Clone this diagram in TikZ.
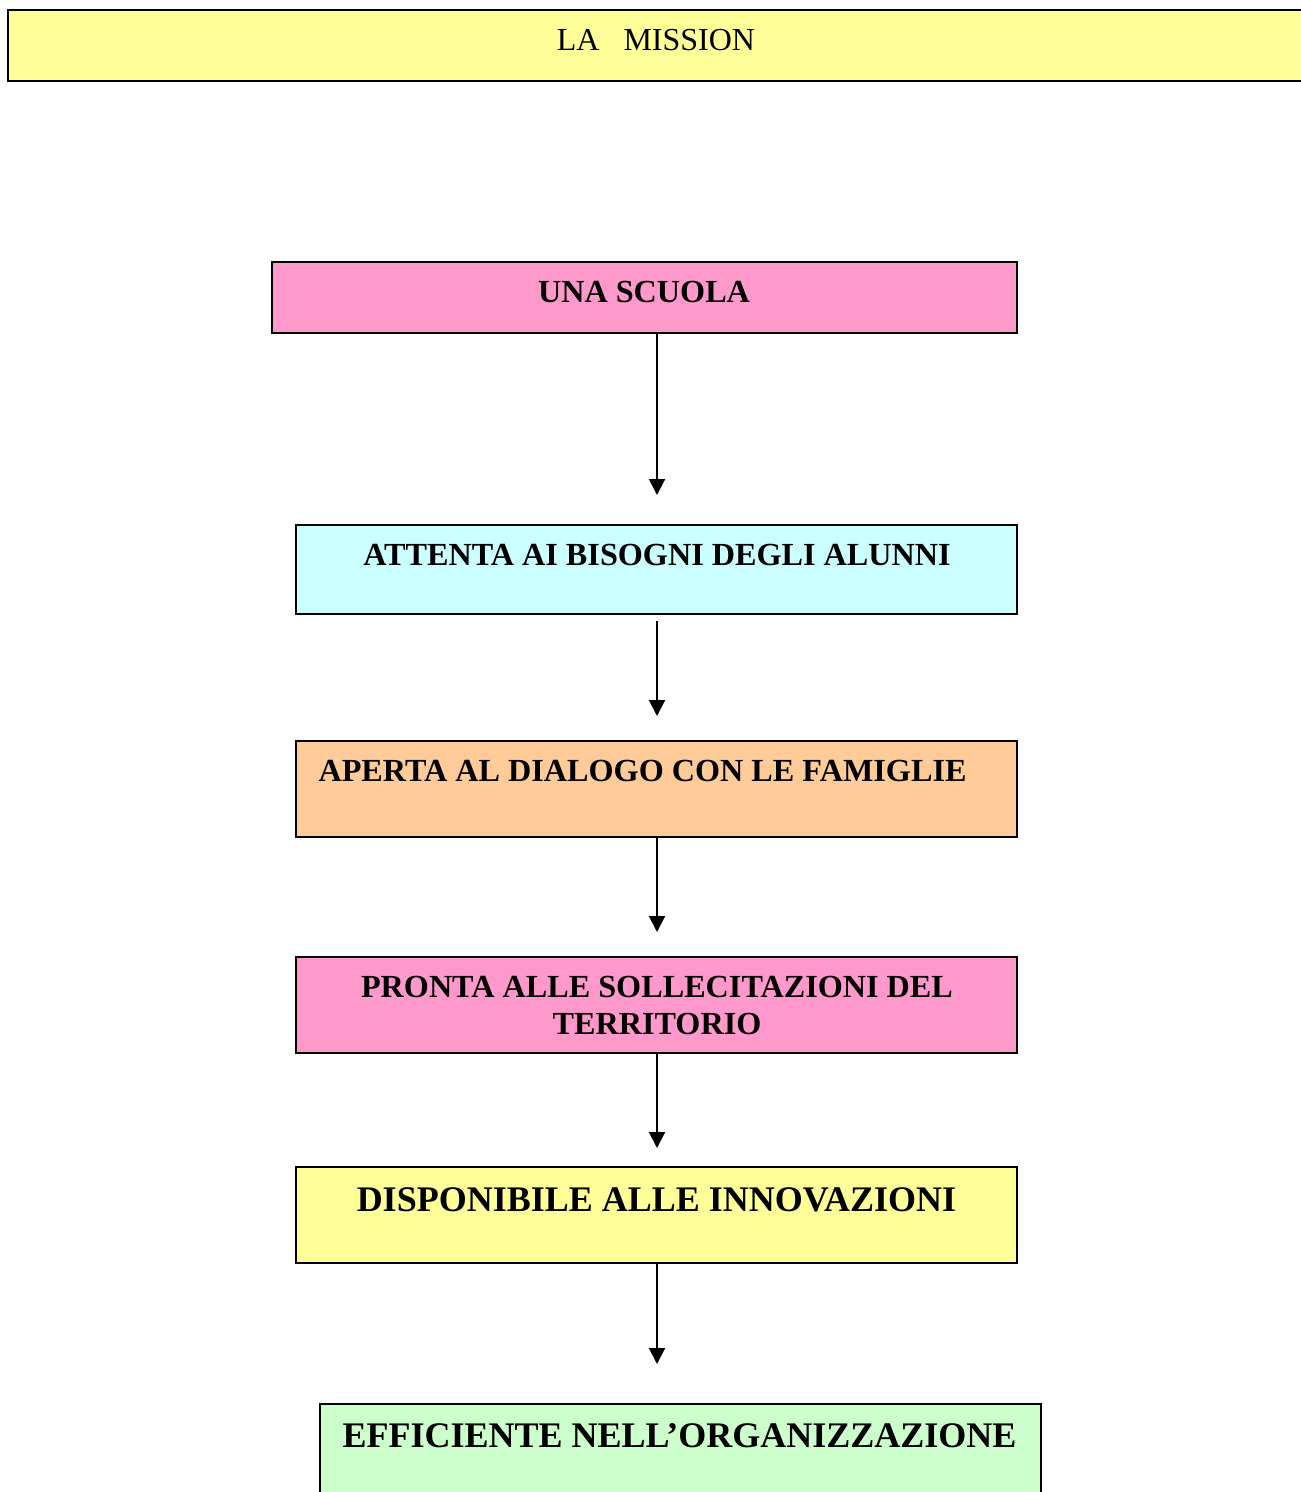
\documentclass[tikz,border=0pt]{standalone}
\usepackage{fontspec}
\setmainfont{Liberation Serif}
\usetikzlibrary{arrows.meta}
\definecolor{cpink}{HTML}{FF99CC}
\definecolor{ccyan}{HTML}{CCFFFF}
\definecolor{cpeach}{HTML}{FFCC99}
\definecolor{cyell}{HTML}{FFFF99}
\definecolor{cgreen}{HTML}{CCFFCC}
\begin{document}
\begin{tikzpicture}[x=0.5pt,y=-0.5pt,
  box/.style={draw=black,line width=1pt,rectangle,inner sep=0pt,minimum width=360.5pt,minimum height=48pt},
  txt/.style={inner sep=0pt,font=\fontsize{16.1}{18.5}\selectfont\bfseries,align=center},
  bigtxt/.style={inner sep=0pt,font=\fontsize{18}{21}\selectfont\bfseries,align=center},
  arr/.style={line width=1pt,-{Triangle[length=8pt,width=8pt]}}]
\useasboundingbox (0,0) rectangle (1300,1492);
\fill[white] (0,0) rectangle (1300,1492);
% title
\node[box,fill=cyell,line width=1.3pt,minimum width=651pt,minimum height=35.5pt] (title) at (659,45.5) {};
\node[inner sep=0pt,font=\fontsize{16}{18}\selectfont] (tt) at (656,40) {LA\ \ \ MISSION};
% boxes
\node[box,fill=cpink,minimum width=372.5pt,minimum height=35.5pt] (b1) at (644.5,297.5) {};
\node[txt] (t1) at (644,292) {UNA SCUOLA};
\node[box,fill=ccyan,minimum height=44.5pt] (b2) at (656.5,569.5) {};
\node[txt] (t2) at (657,555) {ATTENTA AI BISOGNI DEGLI ALUNNI};
\node[box,fill=cpeach] (b3) at (656.5,789) {};
\node[txt] (t3) at (642.5,771) {APERTA AL DIALOGO CON LE FAMIGLIE};
\node[box,fill=cpink] (b4) at (656.5,1005) {};
\node[txt] (t4) at (657,1005) {PRONTA ALLE SOLLECITAZIONI DEL\\TERRITORIO};
\node[box,fill=cyell] (b5) at (656.5,1215) {};
\node[bigtxt] (t5) at (656.5,1200) {DISPONIBILE ALLE INNOVAZIONI};
\node[box,fill=cgreen,minimum height=58pt] (b6) at (680.5,1462) {};
\node[bigtxt] (t6) at (679.5,1436) {EFFICIENTE NELL’ORGANIZZAZIONE};
% arrow ends
\coordinate (e1) at (657,495);
\coordinate (s2) at (657,621);
\coordinate (e2) at (657,716);
\coordinate (e3) at (657,932);
\coordinate (e4) at (657,1148);
\coordinate (e5) at (657,1364);
\draw[arr] (b1.south -| e1) -- (e1);
\draw[arr] (s2) -- (e2);
\draw[arr] (b3.south -| e3) -- (e3);
\draw[arr] (b4.south -| e4) -- (e4);
\draw[arr] (b5.south -| e5) -- (e5);
\end{tikzpicture}
\end{document}
